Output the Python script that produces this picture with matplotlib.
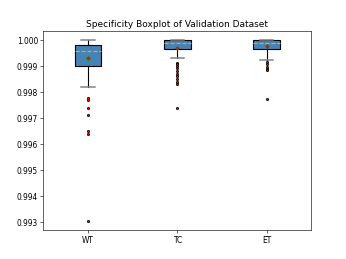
import matplotlib
matplotlib.use("Agg")
import matplotlib.pyplot as plt

# specificity summary per tumour region
labels = ["WT", "TC", "ET"]
q1 = [0.99900, 0.99964, 0.99964]
q3 = [0.99978, 0.99998, 0.99999]
medians = [0.99958, 0.99988, 0.99988]
means = [0.99928, 0.99970, 0.99977]
whis_lo = [0.99817, 0.99928, 0.99923]
whis_hi = [1.00000, 1.00000, 1.00000]
fliers_wt = [0.99777, 0.99769, 0.99736, 0.99712, 0.99648, 0.99638, 0.99302]
fliers_tc = [0.99912, 0.99905, 0.99898, 0.99890, 0.99880, 0.99870, 0.99862,
             0.99850, 0.99838, 0.99828, 0.99738]
fliers_et = [0.99915, 0.99905, 0.99897, 0.99889, 0.99885, 0.99773]

fliers = [fliers_wt, fliers_tc, fliers_et]
stats = []
for i in range(3):
    stats.append(dict(label=labels[i], q1=q1[i], q3=q3[i], med=medians[i],
                      mean=means[i], whislo=whis_lo[i], whishi=whis_hi[i],
                      fliers=fliers[i]))

fig, ax = plt.subplots(figsize=(6.4, 4.8), dpi=346 / 6.4)
ax.bxp(stats, widths=0.3, patch_artist=True, showmeans=True,
       boxprops=dict(facecolor="steelblue", edgecolor="black", linewidth=1.5),
       medianprops=dict(color="orange", linestyle="--", linewidth=1.5),
       whiskerprops=dict(color="black", linewidth=1.5),
       capprops=dict(color="gray", linewidth=2),
       meanprops=dict(marker="D", markerfacecolor="red", markeredgecolor="green",
                      markersize=3.5),
       flierprops=dict(marker="o", markerfacecolor="red", markeredgecolor="black",
                       markersize=3, linestyle="none"))
ax.set_title("Specificity Boxplot of Validation Dataset")
ax.set_yticks([0.993, 0.994, 0.995, 0.996, 0.997, 0.998, 0.999, 1.000])
ax.set_yticklabels(["0.993", "0.994", "0.995", "0.996", "0.997", "0.998", "0.999", "1.000"])
fig.savefig("out.png")
